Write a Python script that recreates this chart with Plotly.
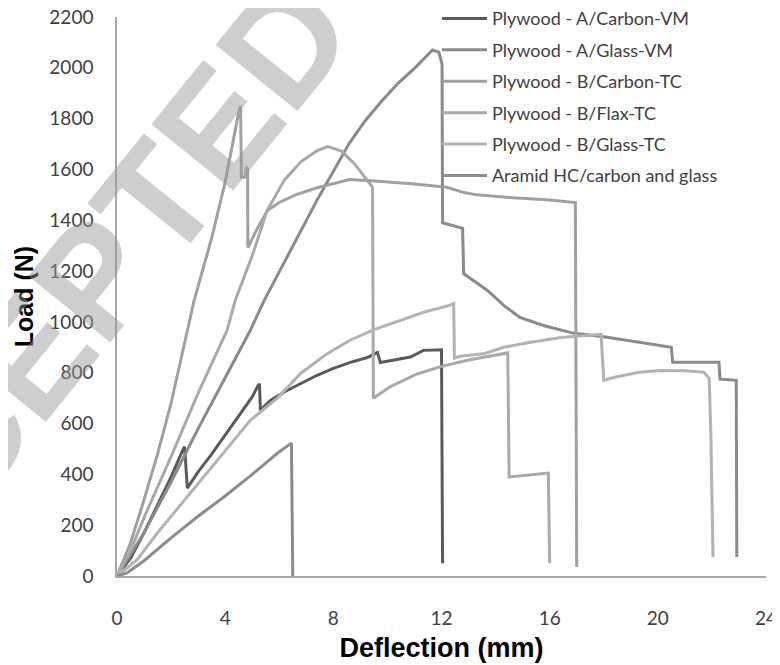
import plotly.graph_objects as go

# Load-deflection curves
ac_vm_x = [0, 0.5, 1.0, 1.5, 2.0, 2.45, 2.5, 2.6, 3.0, 3.5, 4.0, 4.5, 5.0, 5.22, 5.27, 5.3,
           5.67, 6.2, 6.8, 7.4, 8.0, 8.6, 9.26, 9.63, 9.74, 10.3, 10.85, 11.33, 12.0, 12.04]
ac_vm_y = [0, 70, 170, 280, 390, 500, 508, 346, 410, 480, 555, 630, 705, 750, 756, 652,
           691, 725, 758, 790, 817, 840, 860, 880, 840, 852, 862, 888, 890, 50]

ag_vm_x = [0, 1, 2, 3, 4, 4.93, 5.44, 6.5, 7.4, 8.6, 9.2, 9.8, 10.4, 11.0, 11.4, 11.67, 11.9,
           12.02, 12.04, 12.78, 12.82, 13.2, 13.7, 14.3, 14.9, 15.8, 16.9, 18.0, 19.5, 20.5,
           20.55, 22.26, 22.3, 22.9, 22.92]
ag_vm_y = [0, 170, 370, 580, 780, 967, 1084, 1300, 1480, 1705, 1795, 1870, 1940, 1998, 2040,
           2070, 2062, 2015, 1390, 1368, 1190, 1160, 1124, 1065, 1018, 985, 955, 942, 916, 900,
           841, 841, 775, 770, 75]

bc_tc_x = [0, 0.5, 1.0, 1.5, 2.0, 2.6, 2.85, 3.5, 4.0, 4.5, 4.57, 4.6, 4.75, 4.78, 4.83, 4.84,
           5.2, 5.56, 6.0, 6.6, 7.4, 8.6, 9.4, 10.9, 12.2, 12.8, 13.3, 14.5, 16.0, 16.95, 17.0]
bc_tc_y = [0, 130, 300, 480, 680, 967, 1084, 1330, 1550, 1825, 1850, 1570, 1570, 1610, 1600,
           1293, 1370, 1438, 1470, 1500, 1528, 1560, 1556, 1544, 1530, 1510, 1500, 1490, 1480,
           1470, 35]

bf_tc_x = [0, 0.5, 1.0, 2.0, 3.0, 4.07, 4.37, 5.0, 5.55, 6.2, 6.8, 7.4, 7.8, 8.3, 8.8, 9.2,
           9.45, 9.48, 10.1, 11.1, 12.0, 13.0, 14.0, 14.45, 14.5, 15.2, 15.95, 16.0]
bf_tc_y = [0, 100, 230, 470, 720, 967, 1084, 1260, 1438, 1560, 1630, 1674, 1690, 1672, 1620,
           1565, 1530, 700, 745, 795, 825, 850, 868, 878, 390, 398, 405, 50]

bg_tc_x = [0, 0.74, 1.5, 2.5, 3.5, 4.93, 5.93, 6.8, 7.7, 8.6, 9.5, 10.5, 11.4, 12.3, 12.45,
           12.48, 12.7, 13.6, 14.3, 15.3, 16.4, 17.9, 18.0, 18.4, 19.3, 20.1, 21.0, 21.7, 21.9,
           21.96, 22.04]
bg_tc_y = [0, 63, 170, 300, 430, 613, 700, 798, 870, 927, 970, 1006, 1040, 1065, 1072,
           858, 865, 876, 900, 920, 939, 951, 770, 782, 802, 809, 808, 802, 778, 562, 75]

aramid_x = [0, 0.37, 1, 2, 3, 4, 5, 5.93, 6.45, 6.5]
aramid_y = [0, 12, 60, 150, 235, 315, 400, 483, 523, 0]

series = [
    ("Plywood - A/Carbon-VM", ac_vm_x, ac_vm_y, "#5a5a5a"),
    ("Plywood - A/Glass-VM", ag_vm_x, ag_vm_y, "#8a8a8a"),
    ("Plywood - B/Carbon-TC", bc_tc_x, bc_tc_y, "#a0a0a0"),
    ("Plywood - B/Flax-TC", bf_tc_x, bf_tc_y, "#a9a9a9"),
    ("Plywood - B/Glass-TC", bg_tc_x, bg_tc_y, "#b3b3b3"),
    ("Aramid HC/carbon and glass", aramid_x, aramid_y, "#8c8c8c"),
]

x_ticks = [0, 4, 8, 12, 16, 20, 24]

fig = go.Figure()
for name, xs, ys, colour in series:
    fig.add_trace(go.Scatter(
        x=xs, y=ys, name=name, mode="lines", legendgroup=name,
        line=dict(color=colour, width=3),
    ))

# faint watermark across the upper left
fig.add_annotation(
    text="ACCEPTED", xref="paper", yref="paper", x=-0.097, y=0.447,
    xanchor="center", yanchor="middle",
    showarrow=False, textangle=-51,
    font=dict(family="Liberation Sans", size=153, color="rgba(150,150,150,0.47)", weight="bold"),
)

# page body adds an 8px offset, so the figure is 8px smaller than the window
fig.update_layout(
    width=772, height=657,
    margin=dict(l=109, r=14, t=9, b=89, autoexpand=False),
    plot_bgcolor="white", paper_bgcolor="white",
    font=dict(family="Lato", size=19, color="#404040"),
    legend=dict(
        x=0.493, y=1.03, xanchor="left", yanchor="top",
        bgcolor="rgba(0,0,0,0)", font=dict(size=18, color="#404040"),
        tracegroupgap=5, itemwidth=45,
    ),
    xaxis=dict(
        range=[0, 24], tickvals=x_ticks, showgrid=False, zeroline=False,
        showline=True, linecolor="#a6a6a6", linewidth=1.5, ticks="",
        ticklabelstandoff=24, ticklabeloverflow="allow",
        title=dict(text="Deflection (mm)", standoff=11,
                   font=dict(family="Liberation Sans", size=27, color="black", weight="bold")),
    ),
    yaxis=dict(
        range=[0, 2200], dtick=200, showgrid=False, zeroline=False,
        showline=True, linecolor="#a6a6a6", linewidth=1.5, ticks="",
        ticklabelstandoff=18, ticklabeloverflow="allow",
        title=dict(text="Load (N)", standoff=9,
                   font=dict(family="Liberation Sans", size=25, color="black", weight="bold")),
    ),
)

fig.write_html("out.html")
